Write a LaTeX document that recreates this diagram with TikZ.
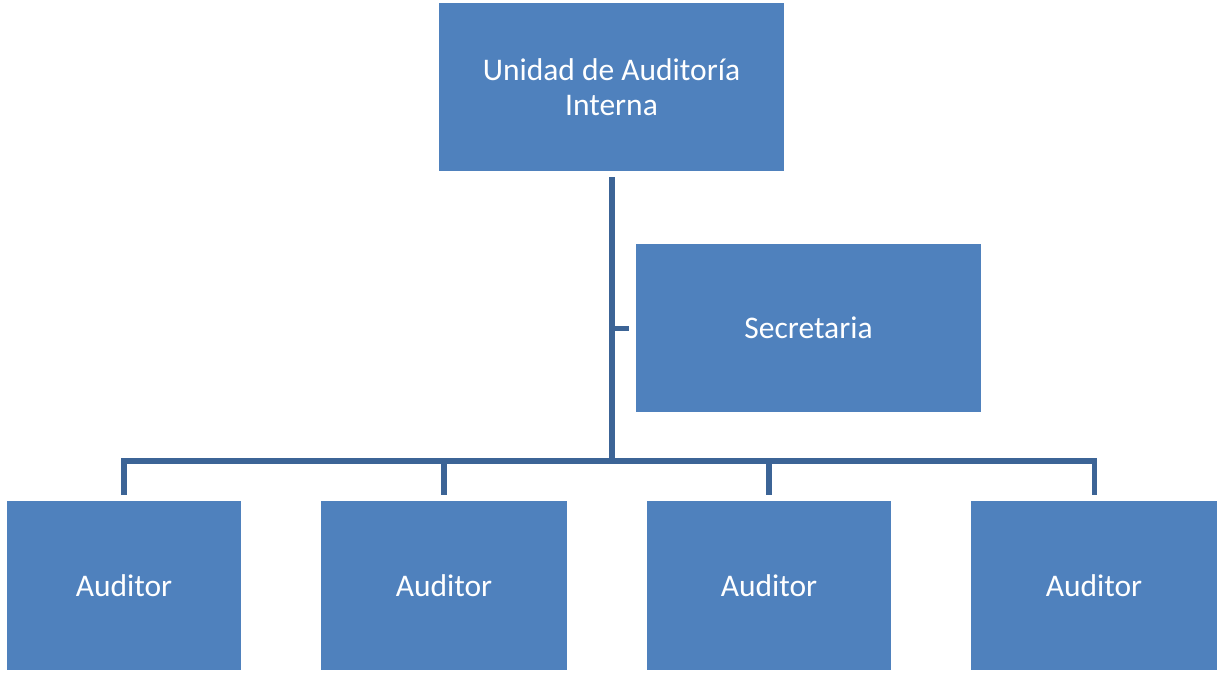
\documentclass[tikz,border=0pt]{standalone}
\usepackage{fontspec}
\setmainfont{Carlito}
\definecolor{boxblue}{HTML}{4F81BD}
\definecolor{lineblue}{HTML}{3C6496}
\begin{document}
\begin{tikzpicture}[x=1pt,y=-1pt,
  box/.style={fill=boxblue,draw=none,text=white,align=center,font=\fontsize{31.5}{34.5}\selectfont},
  conn/.style={draw=lineblue,line width=5.5pt}]
\useasboundingbox (0,0) rectangle (1225,673);
\node[box,minimum width=345pt,minimum height=168pt] (top) at (611.5,87) {Unidad de Auditoría\\Interna};
\node[box,minimum width=345pt,minimum height=168pt] (sec) at (808.5,328) {Secretaria};
\node[box,minimum width=234pt,minimum height=169pt] (a1) at (124,585.5) {Auditor};
\node[box,minimum width=246pt,minimum height=169pt] (a2) at (444,585.5) {Auditor};
\node[box,minimum width=244pt,minimum height=169pt] (a3) at (769,585.5) {Auditor};
\node[box,minimum width=246pt,minimum height=169pt] (a4) at (1094,585.5) {Auditor};
\coordinate (vtop) at (612,177);
\coordinate (hub) at (612,461);
\coordinate (stub) at (629,328.5);
\coordinate (h1) at (124,461);
\coordinate (h4) at (1094.5,461);
\draw[conn] (vtop) -- (hub);
\draw[conn] (612,328.5) -- (stub);
\draw[conn,line join=miter] (124,495) -- (h1) -- (h4) -- (1094.5,495);
\draw[conn] (444,461) -- (444,495);
\draw[conn] (769,461) -- (769,495);
\end{tikzpicture}
\end{document}
